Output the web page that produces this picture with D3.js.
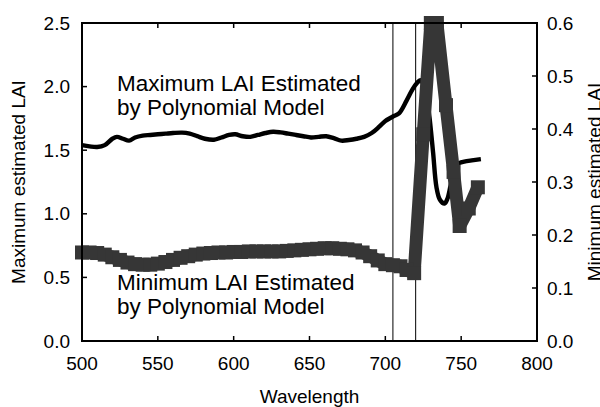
<!DOCTYPE html>
<html>
<head>
<meta charset="utf-8">
<script src="https://cdn.jsdelivr.net/npm/d3@7/dist/d3.min.js"></script>
<style>
  html, body { margin: 0; padding: 0; background: #fff; }
  svg { display: block; font-family: "Liberation Sans", Arial, Helvetica, sans-serif; }
</style>
</head>
<body>
<svg id="chart" width="600" height="407"></svg>
<script>
// Maximum LAI estimated by the polynomial model (left axis)
const maxWavelength = [500, 505, 510, 515, 520, 523, 527, 531, 535, 540, 545, 550, 555, 560, 566, 571, 576, 581, 587, 592, 597, 601, 606, 611, 616, 621, 626, 631, 636, 641, 646, 651, 656, 661, 666, 671, 676, 681, 686, 691, 696, 700, 705, 709, 714, 718, 721, 723, 725, 727, 729, 731.5, 733.7, 736, 739, 741, 743, 745, 747, 749, 752, 757, 763];
const maxLAI = [1.54, 1.53, 1.525, 1.54, 1.59, 1.605, 1.59, 1.575, 1.60, 1.615, 1.62, 1.625, 1.63, 1.635, 1.638, 1.63, 1.61, 1.59, 1.582, 1.60, 1.62, 1.625, 1.61, 1.605, 1.62, 1.635, 1.645, 1.64, 1.63, 1.62, 1.61, 1.60, 1.605, 1.61, 1.595, 1.575, 1.58, 1.59, 1.605, 1.635, 1.685, 1.73, 1.765, 1.79, 1.89, 1.98, 2.03, 2.05, 2.02, 1.93, 1.77, 1.48, 1.21, 1.11, 1.08, 1.12, 1.22, 1.32, 1.38, 1.40, 1.41, 1.42, 1.43];

// Minimum LAI estimated by the polynomial model (right axis)
const minWavelength = [500, 505, 510, 515, 520, 525, 530, 535, 540, 545, 550, 555, 560, 565, 570, 575, 580, 585, 590, 595, 600, 605, 610, 615, 620, 625, 630, 635, 640, 645, 650, 655, 660, 665, 670, 675, 680, 685, 690, 695, 700, 705, 710, 714, 719, 725, 730, 734, 740, 745, 749, 755, 761];
const minLAI = [0.167, 0.167, 0.166, 0.163, 0.158, 0.153, 0.148, 0.145, 0.144, 0.144, 0.146, 0.149, 0.153, 0.157, 0.160, 0.163, 0.165, 0.166, 0.167, 0.167, 0.168, 0.168, 0.169, 0.169, 0.169, 0.169, 0.169, 0.170, 0.171, 0.172, 0.173, 0.174, 0.175, 0.175, 0.174, 0.173, 0.171, 0.167, 0.160, 0.152, 0.145, 0.143, 0.141, 0.134, 0.128, 0.39, 0.6, 0.6, 0.445, 0.319, 0.217, 0.25, 0.29];

// Wavelengths marked by vertical reference lines
const markerWavelengths = [705, 720];

// Axis ticks
const xTicks = [500, 550, 600, 650, 700, 750, 800];
const leftTicks = [0, 0.5, 1.0, 1.5, 2.0, 2.5];
const rightTicks = [0, 0.1, 0.2, 0.3, 0.4, 0.5, 0.6];

const svg = d3.select("#chart");
const plotLeft = 82, plotRight = 537, plotTop = 23, plotBottom = 341;

const x = d3.scaleLinear().domain([500, 800]).range([plotLeft, plotRight]);
const yL = d3.scaleLinear().domain([0, 2.5]).range([plotBottom, plotTop]);
const yR = d3.scaleLinear().domain([0, 0.6]).range([plotBottom, plotTop]);
const fmt = d3.format(".1f");
const tickFont = 19;

// Reference lines
svg.append("g").selectAll("line").data(markerWavelengths).join("line")
  .attr("x1", d => x(d)).attr("x2", d => x(d))
  .attr("y1", plotTop).attr("y2", plotBottom)
  .attr("stroke", "#000").attr("stroke-width", 1);

// Maximum LAI curve
const maxData = maxWavelength.map((w, i) => [w, maxLAI[i]]);
svg.append("path")
  .datum(maxData)
  .attr("fill", "none")
  .attr("stroke", "#000")
  .attr("stroke-width", 4.4)
  .attr("stroke-linejoin", "round")
  .attr("d", d3.line().x(d => x(d[0])).y(d => yL(d[1])).curve(d3.curveCatmullRom.alpha(0.5)));

// Minimum LAI curve: thick line with square markers
const minData = minWavelength.map((w, i) => [w, minLAI[i]]);
const grey = "#363636";
svg.append("path")
  .datum(minData)
  .attr("fill", "none")
  .attr("stroke", grey)
  .attr("stroke-width", 13)
  .attr("stroke-linejoin", "bevel")
  .attr("d", d3.line().x(d => x(d[0])).y(d => yR(d[1])));
const sq = 14;
svg.append("g").selectAll("rect").data(minData).join("rect")
  .attr("x", d => x(d[0]) - sq / 2)
  .attr("y", d => yR(d[1]) - sq / 2)
  .attr("width", sq).attr("height", sq)
  .attr("fill", grey);

// Frame
svg.append("rect")
  .attr("x", plotLeft).attr("y", plotTop)
  .attr("width", plotRight - plotLeft).attr("height", plotBottom - plotTop)
  .attr("fill", "none").attr("stroke", "#000").attr("stroke-width", 2);

// Tick marks (inward) and labels
const ticks = svg.append("g").attr("stroke", "#000").attr("stroke-width", 1.5);
xTicks.forEach(t => {
  ticks.append("line").attr("x1", x(t)).attr("x2", x(t)).attr("y1", plotBottom).attr("y2", plotBottom - 5);
  ticks.append("line").attr("x1", x(t)).attr("x2", x(t)).attr("y1", plotTop).attr("y2", plotTop + 5);
});
leftTicks.forEach(t => {
  ticks.append("line").attr("x1", plotLeft).attr("x2", plotLeft + 5).attr("y1", yL(t)).attr("y2", yL(t));
});
rightTicks.forEach(t => {
  ticks.append("line").attr("x1", plotRight).attr("x2", plotRight - 5).attr("y1", yR(t)).attr("y2", yR(t));
});

svg.append("g").selectAll("text").data(xTicks).join("text")
  .attr("x", d => x(d)).attr("y", plotBottom + 29)
  .attr("text-anchor", "middle").attr("font-size", tickFont).attr("fill", "#000")
  .text(d => d);

svg.append("g").selectAll("text").data(leftTicks).join("text")
  .attr("x", plotLeft - 12).attr("y", d => yL(d) + 6.5)
  .attr("text-anchor", "end").attr("font-size", tickFont).attr("fill", "#000")
  .text(d => fmt(d));

svg.append("g").selectAll("text").data(rightTicks).join("text")
  .attr("x", plotRight + 10).attr("y", d => yR(d) + 6.5)
  .attr("text-anchor", "start").attr("font-size", tickFont).attr("fill", "#000")
  .text(d => fmt(d));

// Axis titles
svg.append("text")
  .attr("x", (plotLeft + plotRight) / 2).attr("y", 403)
  .attr("text-anchor", "middle").attr("font-size", tickFont).attr("fill", "#000")
  .text("Wavelength");

svg.append("text")
  .attr("transform", `translate(25,${(plotTop + plotBottom) / 2}) rotate(-90)`)
  .attr("text-anchor", "middle").attr("font-size", tickFont).attr("fill", "#000")
  .text("Maximum estimated LAI");

svg.append("text")
  .attr("transform", `translate(600.5,${(plotTop + plotBottom) / 2}) rotate(-90)`)
  .attr("text-anchor", "middle").attr("font-size", tickFont).attr("fill", "#000")
  .text("Minimum estimated LAI");

// Curve annotations
const notes = [
  { lines: ["Maximum LAI Estimated", "by Polynomial Model"], y: 91 },
  { lines: ["Minimum LAI Estimated", "by Polynomial Model"], y: 290 }
];
notes.forEach(n => {
  n.lines.forEach((s, i) => {
    svg.append("text")
      .attr("x", 117).attr("y", n.y + i * 24)
      .attr("font-size", 22.5).attr("fill", "#000")
      .text(s);
  });
});
</script>
</body>
</html>
